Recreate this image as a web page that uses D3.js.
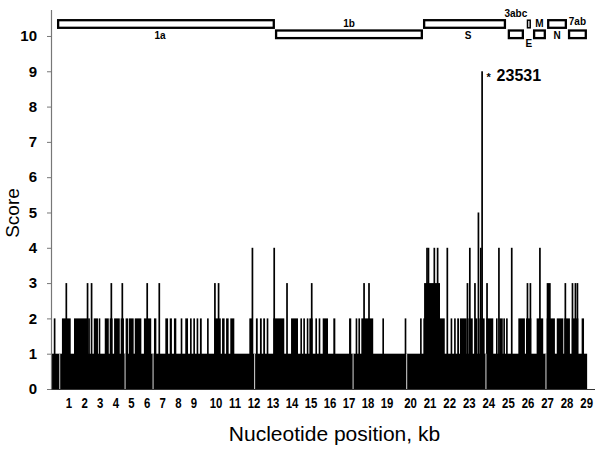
<!DOCTYPE html>
<html><head><meta charset="utf-8">
<script src="https://cdn.jsdelivr.net/npm/d3@7/dist/d3.min.js"></script>
<style>body{margin:0;background:#fff}svg{display:block}</style>
</head><body>
<svg id="chart" width="600" height="451"></svg>
<script>
// ---------------- DATA ----------------
const genomeLengthKb = 29.7;
const scoreTicks = [0,1,2,3,4,5,6,7,8,9,10];
const positionTickLabels = ["1","2","3","4","5","6","7","8","9","10","11","12","13","14","15","16","17","18","19","20","21","22","23","24","25","26","27","28","29"];

// score-1 background run (kb)
const baseRun = [0, 29.27];
// positions with score 0 (kb)
const zeroPositions = [0.45, 4.02, 5.55, 11.10, 16.48, 19.41, 23.74, 27.02];

// runs with score 2 [startKb, endKb]
const runsScore2 = [[0.57,1.05],[1.23,1.96],[2.31,2.54],[2.58,2.65],[2.91,3.13],[3.18,3.34],[3.42,3.73],[3.78,3.96],[4.05,4.18],[4.22,4.49],[4.55,4.91],[5.05,5.45],[5.60,5.73],[6.22,6.37],[6.46,6.58],[6.69,6.82],[7.06,7.15],[7.31,7.46],[7.57,7.66],[7.75,7.84],[7.93,8.02],[8.11,8.21],[8.50,8.59],[8.90,9.25],[9.32,9.46],[9.54,9.68],[9.77,9.99],[10.81,10.96],[11.17,11.27],[11.39,11.49],[11.57,11.67],[11.76,11.85],[12.12,12.72],[13.09,13.47],[13.60,13.67],[13.76,13.85],[13.95,14.03],[14.09,14.27],[14.42,14.51],[14.60,14.69],[14.82,15.11],[15.40,15.51],[16.26,16.38],[16.62,16.71],[16.77,16.86],[16.93,17.58],[18.08,18.17],[19.30,19.39],[20.14,20.23],[20.32,21.49],[21.81,21.90],[22.00,22.09],[22.17,22.27],[22.32,22.69],[22.78,23.02],[23.14,23.27],[23.38,23.67],[23.76,24.14],[24.29,24.36],[24.47,24.66],[24.69,24.78],[24.84,24.93],[25.51,25.87],[25.93,26.22],[26.51,26.87],[27.06,27.51],[27.61,27.97],[28.02,28.33],[28.43,28.79],[28.97,29.10]];
// runs with score 3
const runsScore3 = [[20.36,21.23],[27.06,27.28]];

// single-position spikes
const spikePositions = [0.17,2.05, 0.81,1.97,2.19,3.27,3.87,5.23,5.89,8.93,9.13,12.87,14.22,17.08,17.35,22.73,23.14,23.80,26.01,26.17,28.08,28.47,28.63,28.74, 10.98,12.17,20.52,20.60,20.92,21.10,21.63,22.86,23.46,24.45,25.15,26.69, 23.33, 23.531];
const spikeScores    = [2,2, 3,3,3,3,3,3,3,3,3,3,3,3,3,3,3,3,3,3,3,3,3,3, 4,4,4,4,4,4,4,4,4,4,4,4, 5, 9];

const peakLabel = "23531";
const peakPosition = 23.531;
const peakScore = 9;

// genome map (kb)
const geneNames  = ["1a","1b","S","3abc","E","M","N","7ab"];
const geneStart  = [0.30,12.21,20.30,24.93,25.97,26.31,27.08,28.22];
const geneEnd    = [12.21,20.30,24.84,25.82,26.20,27.02,28.17,29.26];
const geneFrame  = ["top","bottom","top","bottom","top","bottom","top","bottom"];

const xTitle = "Nucleotide position, kb";
const yTitle = "Score";

// ---------------- CHART ----------------
const svg = d3.select("#chart");
const x = d3.scaleLinear().domain([0, genomeLengthKb]).range([51.5, 595]);
const y = d3.scaleLinear().domain([0, 10.75]).range([389, 9.5]);
const sans = "'Liberation Sans', Arial, Helvetica, sans-serif";

const bars = svg.append("g");
bars.append("rect")
  .attr("x", x(baseRun[0])).attr("width", x(baseRun[1]) - x(baseRun[0]))
  .attr("y", y(1)).attr("height", y(0) - y(1)).attr("fill", "#000");

const allRuns = runsScore2.map(r => [r[0], r[1], 2]).concat(runsScore3.map(r => [r[0], r[1], 3]));
bars.selectAll("rect.run").data(allRuns).join("rect").attr("class","run")
  .attr("x", d => x(d[0])).attr("width", d => Math.max(1.6, x(d[1]) - x(d[0])))
  .attr("y", d => y(d[2])).attr("height", d => y(0) - y(d[2])).attr("fill", "#000");

const spikes = spikePositions.map((p, i) => [p, spikeScores[i]]);
bars.selectAll("rect.spike").data(spikes).join("rect").attr("class","spike")
  .attr("x", d => x(d[0]) - 0.85).attr("width", 1.7)
  .attr("y", d => y(d[1])).attr("height", d => y(0) - y(d[1])).attr("fill", "#000");

bars.selectAll("rect.zero").data(zeroPositions).join("rect").attr("class","zero")
  .attr("x", d => x(d) - 0.5).attr("width", 1)
  .attr("y", y(1)).attr("height", y(0) - y(1)).attr("fill", "#d8d8d8");

svg.append("line").attr("x1", x(0) - 3).attr("x2", x(genomeLengthKb))
  .attr("y1", y(0) + 0.5).attr("y2", y(0) + 0.5).attr("stroke", "#333").attr("stroke-width", 1);

const yAxis = svg.append("g").attr("transform", `translate(51,0)`)
  .call(d3.axisLeft(y).tickValues(scoreTicks).tickSize(4).tickSizeOuter(0).tickPadding(10).tickFormat(d3.format("d")));
yAxis.select(".domain").attr("stroke", "#777").attr("stroke-width", 1.2);
yAxis.selectAll(".tick line").attr("stroke", "#777");
yAxis.selectAll(".tick text").attr("font-family", sans).attr("font-size", 15).attr("font-weight", "bold").attr("fill", "#000");

// x tick labels (typed string layout in the source figure, condensed glyphs)
const labelPos = d3.scaleLinear().domain([1, 9, 10, 19, 20, 29]).range([69, 194, 216, 387, 410.5, 586.7]);
svg.append("g").selectAll("text").data(positionTickLabels).join("text")
  .attr("transform", d => `translate(${labelPos(+d)},408) scale(0.76,1)`)
  .attr("text-anchor", "middle")
  .attr("font-family", sans)
  .attr("font-weight", "bold").attr("font-size", 15).attr("fill", "#000")
  .text(d => d);

svg.append("text").attr("x", 334.5).attr("y", 441).attr("text-anchor", "middle")
  .attr("font-family", sans).attr("font-size", 21).attr("fill", "#000").text(xTitle);
svg.append("text").attr("transform", "translate(19,213) rotate(-90)").attr("text-anchor", "middle")
  .attr("font-family", sans).attr("font-size", 19).attr("fill", "#000").text(yTitle);

svg.append("text").attr("x", x(peakPosition) + 4.5).attr("y", y(peakScore) + 10)
  .attr("font-family", sans).attr("font-size", 11).attr("font-weight", "bold").text("*");
svg.append("text").attr("x", x(peakPosition) + 14.5).attr("y", y(peakScore) + 10)
  .attr("font-family", sans).attr("font-size", 16).attr("font-weight", "bold").text(peakLabel);

const frameY = {top: 20.2, bottom: 30.5};
const frameH = 7.6;
const labelY = {"1a": 39, "1b": 27, "S": 39, "3abc": 17.3, "E": 46.7, "M": 26.7, "N": 39, "7ab": 25.2};
const labelDx = {"1a": -6, "S": 3.5};
const map = svg.append("g");
geneNames.forEach((name, i) => {
  const x0 = x(geneStart[i]), x1 = x(geneEnd[i]);
  const sw = (x1 - x0) < 8 ? 1.5 : 2.3;
  map.append("rect").attr("x", x0 + sw / 2).attr("y", frameY[geneFrame[i]])
    .attr("width", x1 - x0 - sw).attr("height", frameH)
    .attr("fill", "#fff").attr("stroke", "#000").attr("stroke-width", sw);
});
geneNames.forEach((name, i) => {
  const x0 = x(geneStart[i]), x1 = x(geneEnd[i]);
  map.append("text").attr("x", (x0 + x1) / 2 + (labelDx[name] || 0)).attr("y", labelY[name])
    .attr("text-anchor", "middle").attr("font-family", sans).attr("font-size", 10)
    .attr("font-weight", "bold").attr("fill", "#000").text(name);
});
</script>
</body></html>
